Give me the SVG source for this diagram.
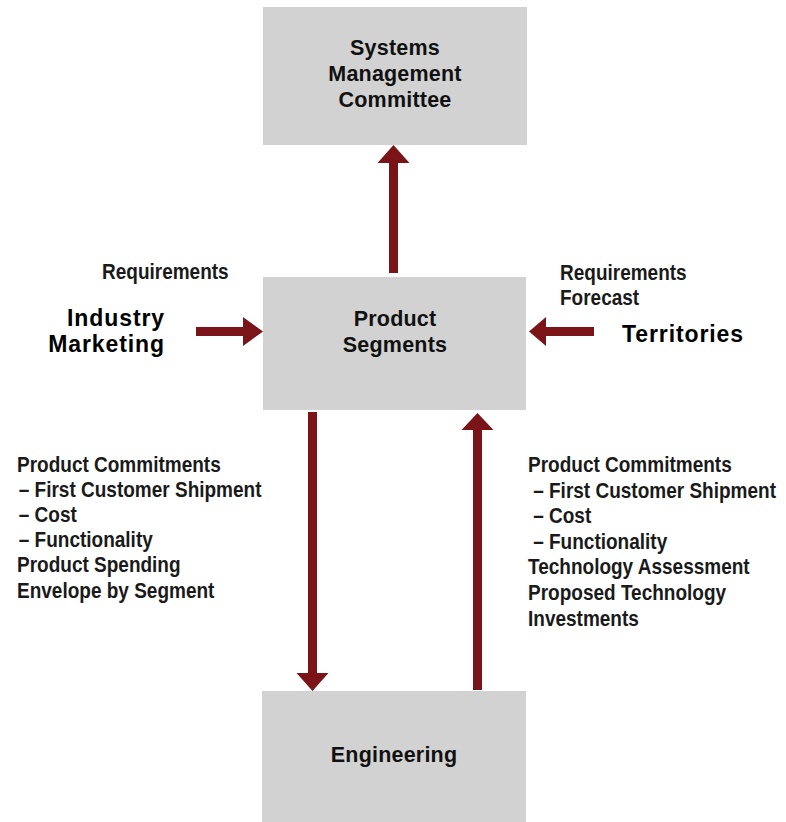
<svg xmlns="http://www.w3.org/2000/svg" width="786" height="822" viewBox="0 0 786 822">
  <defs>
    <style>
      .box { fill: #d2d2d2; }
      .node { font-family: "Liberation Sans", Arial, sans-serif; font-weight: bold; font-size: 21.5px; letter-spacing: 0.2px; fill: #111; text-anchor: middle; }
      .side { font-family: "Liberation Sans", Arial, sans-serif; font-weight: bold; font-size: 23px; letter-spacing: 0.9px; fill: #000; }
      .lbl { font-family: "Liberation Sans", Arial, sans-serif; font-weight: bold; font-size: 22px; fill: #1a1a1a; }
      .arrow { fill: #7a1418; }
    </style>
  </defs>
  <rect width="786" height="822" fill="#ffffff"/>

  <g id="smc">
    <rect class="box" x="263" y="7" width="264" height="138"/>
    <text class="node" x="395" y="55">Systems</text>
    <text class="node" x="395" y="81">Management</text>
    <text class="node" x="395" y="107">Committee</text>
  </g>

  <g id="segments">
    <rect class="box" x="263" y="277" width="263" height="133"/>
    <text class="node" x="395" y="326">Product</text>
    <text class="node" x="395" y="352">Segments</text>
  </g>

  <g id="engineering">
    <rect class="box" x="262" y="691" width="264" height="131"/>
    <text class="node" x="394" y="762">Engineering</text>
  </g>

  <g id="industry">
    <text class="side" x="165" y="326" text-anchor="end">Industry</text>
    <text class="side" x="165" y="352" text-anchor="end">Marketing</text>
  </g>

  <g id="territories">
    <text class="side" x="622" y="342">Territories</text>
  </g>

  <g id="connectors">
    <!-- Segments up to committee -->
    <polygon class="arrow" points="389,273 389,163 377.5,163 393.5,145 409.5,163 398,163 398,273"/>
    <!-- Industry Marketing into segments -->
    <polygon class="arrow" points="196,327 243,327 243,317 263,331.5 243,346 243,336 196,336"/>
    <!-- Territories into segments -->
    <polygon class="arrow" points="594,327 546,327 546,317 529,331.5 546,346 546,336 594,336"/>
    <!-- Segments down to engineering -->
    <polygon class="arrow" points="308,412 308,673 296.5,673 312.5,691 328.5,673 317,673 317,412"/>
    <!-- Engineering up to segments -->
    <polygon class="arrow" points="473,690 473,430 461.5,430 477.5,413 493.5,430 482,430 482,690"/>
  </g>

  <!-- flow labels: condensed by a horizontal squeeze -->
  <g id="labels">
    <g transform="translate(102,0) scale(0.864,1)">
      <text class="lbl" x="0" y="279">Requirements</text>
    </g>
    <g transform="translate(560,0) scale(0.864,1)">
      <text class="lbl" x="0" y="280">Requirements</text>
      <text class="lbl" x="0" y="305">Forecast</text>
    </g>

    <g transform="translate(17,0) scale(0.864,1)">
      <text class="lbl" x="0" y="472">Product Commitments</text>
      <text class="lbl" x="2" y="497">– First Customer Shipment</text>
      <text class="lbl" x="2" y="522">– Cost</text>
      <text class="lbl" x="2" y="547">– Functionality</text>
      <text class="lbl" x="0" y="572">Product Spending</text>
      <text class="lbl" x="0" y="598">Envelope by Segment</text>
    </g>

    <g transform="translate(528,0) scale(0.864,1)">
      <text class="lbl" x="0" y="472">Product Commitments</text>
      <text class="lbl" x="6" y="498">– First Customer Shipment</text>
      <text class="lbl" x="6" y="523">– Cost</text>
      <text class="lbl" x="6" y="549">– Functionality</text>
      <text class="lbl" x="0" y="574">Technology Assessment</text>
      <text class="lbl" x="0" y="600">Proposed Technology</text>
      <text class="lbl" x="0" y="626">Investments</text>
    </g>
  </g>
</svg>
